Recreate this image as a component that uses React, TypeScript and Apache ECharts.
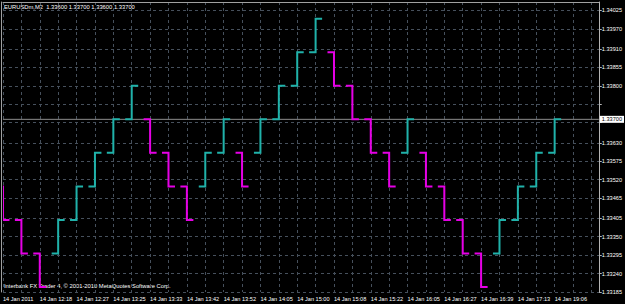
import React, { useEffect, useRef } from "react";
import * as echarts from "echarts";

const timeLabels = [
  "14 Jan 2011", "14 Jan 12:18", "14 Jan 12:27", "14 Jan 13:25",
  "14 Jan 13:33", "14 Jan 13:42", "14 Jan 13:52", "14 Jan 14:05",
  "14 Jan 15:00", "14 Jan 15:08", "14 Jan 15:22", "14 Jan 16:05",
  "14 Jan 16:27", "14 Jan 16:39", "14 Jan 17:13", "14 Jan 19:06",
];

const opens = [
  1.3350, 1.3340, 1.3330, 1.3330, 1.3340, 1.3350, 1.3360, 1.3370,
  1.3370, 1.3360, 1.3350, 1.3350, 1.3360, 1.3360, 1.3360, 1.3370,
  1.3380, 1.3390, 1.3390, 1.3380, 1.3370, 1.3360, 1.3360, 1.3360,
  1.3350, 1.3340, 1.3330, 1.3330, 1.3340, 1.3350, 1.3360,
];
const closes = [
  1.3340, 1.3330, 1.3320, 1.3340, 1.3350, 1.3360, 1.3370, 1.3380,
  1.3360, 1.3350, 1.3340, 1.3360, 1.3370, 1.3350, 1.3370, 1.3380,
  1.3390, 1.3400, 1.3380, 1.3370, 1.3360, 1.3350, 1.3370, 1.3350,
  1.3340, 1.3330, 1.3320, 1.3340, 1.3350, 1.3360, 1.3370,
];

const priceTicks = [
  1.34025, 1.3397, 1.3391, 1.33855, 1.338, 1.33745, 1.3369, 1.3363,
  1.33575, 1.3352, 1.33465, 1.33405, 1.3335, 1.33295, 1.3324, 1.33185,
];
// labels hidden behind the current-price box are not drawn
const priceLabels = priceTicks.filter((v) => v !== 1.33745 && v !== 1.3369);
const currentPrice = 1.337;
const X_MIN = 0;
const X_MAX = 32.4;
const headerText = "EURUSDm,M2  1.33600 1.33700 1.33600 1.33700";
const footerText = "Interbank FX Trader 4, \u00a9 2001-2010 MetaQuotes Software Corp.";

const UP = "#20b2aa";
const DOWN = "#e600e6";
const GRID = "#46505c";
const FONT = "Liberation Sans, Arial, sans-serif";

export default function App() {
  const ref = useRef<HTMLDivElement>(null);
  useEffect(() => {
    document.body.style.margin = "0";
    document.body.style.background = "#000";
    const chart = echarts.init(ref.current!, null, { renderer: "svg" });
    const data = opens.map((o, i) => [i, o, closes[i]]);
    chart.setOption({
      animation: false,
      backgroundColor: "#000000",
      grid: { left: 2, right: 22, top: 2, bottom: 12, show: false },
      xAxis: [
        {
          type: "value",
          min: X_MIN,
          max: X_MAX,
          interval: 1,
          axisLine: { show: false },
          axisTick: { show: false },
          splitLine: { show: true, lineStyle: { color: GRID, type: [3, 3], width: 1 } },
          axisLabel: {
            color: "#ffffff",
            fontSize: 5.6,
            fontFamily: FONT,
            align: "left",
            margin: 4,
            formatter: (v: number) => {
              if (Math.abs(v - Math.round(v)) < 1e-6) {
                const r = Math.round(v);
                if (r % 2 === 0 && r / 2 < timeLabels.length) return timeLabels[r / 2];
              }
              return "";
            },
          },
        },
        {
          type: "value",
          position: "top",
          min: X_MIN,
          max: X_MAX,
          axisLine: { show: true, onZero: false, lineStyle: { color: "#a0a0a0", width: 1 } },
          axisTick: { show: false },
          axisLabel: { show: false },
          splitLine: { show: false },
        },
      ],
      yAxis: [
        {
          type: "value",
          position: "right",
          min: 1.33185,
          max: 1.3405,
          axisLine: { show: true, onZero: false, lineStyle: { color: "#b4b4b4", width: 1 } },
          axisTick: {
            show: true,
            length: 3,
            lineStyle: { color: "#b4b4b4" },
            customValues: priceTicks,
          },
          splitLine: { show: true, lineStyle: { color: GRID, type: [3, 3], width: 1 } },
          axisLabel: {
            color: "#ffffff",
            fontSize: 5.6,
            fontFamily: FONT,
            margin: 3,
            customValues: priceLabels,
            formatter: (v: number) => v.toFixed(5),
          },
        },
        {
          type: "value",
          position: "left",
          offset: 1.5,
          min: 1.33185,
          max: 1.3405,
          axisLine: { show: true, onZero: false, lineStyle: { color: "#a0a0a0", width: 1 } },
          axisTick: { show: false },
          axisLabel: { show: false },
          splitLine: { show: false },
        },
      ],
      series: [
        {
          type: "line",
          xAxisIndex: 0,
          yAxisIndex: 0,
          data: [
            [X_MIN, currentPrice],
            [X_MAX, currentPrice],
          ],
          symbol: "none",
          silent: true,
          z: 1,
          lineStyle: { color: "#8c8c8c", width: 1, type: "solid" },
          endLabel: {
            show: true,
            distance: 1,
            formatter: () => currentPrice.toFixed(5),
            color: "#000000",
            backgroundColor: "#ffffff",
            padding: [1, 2, 0, 2],
            fontSize: 5.6,
            fontFamily: FONT,
          },
        },
        {
          type: "custom",
          clip: true,
          xAxisIndex: 0,
          yAxisIndex: 0,
          z: 3,
          encode: { x: 0, y: [1, 2] },
          data,
          renderItem: (params: any, api: any) => {
            const i = api.value(0);
            const o = api.value(1);
            const c = api.value(2);
            const po = api.coord([i, o]);
            const pc = api.coord([i, c]);
            const color = c > o ? UP : DOWN;
            return {
              type: "polyline",
              shape: {
                points: [
                  [po[0] - 6.5, po[1]],
                  [po[0], po[1]],
                  [pc[0], pc[1]],
                  [pc[0] + 6.5, pc[1]],
                ],
              },
              style: { stroke: color, lineWidth: 2, fill: null },
            };
          },
        },
      ],
      graphic: [
        {
          type: "text",
          left: 4,
          top: 4,
          style: { text: headerText, fill: "#ffffff", fontSize: 5.8, fontFamily: FONT },
        },
        {
          type: "text",
          left: 4,
          top: 283,
          style: { text: footerText, fill: "#ffffff", fontSize: 5.8, fontFamily: FONT },
        },
      ],
    });
    return () => chart.dispose();
  }, []);
  return <div ref={ref} style={{ width: 625, height: 304 }} />;
}
